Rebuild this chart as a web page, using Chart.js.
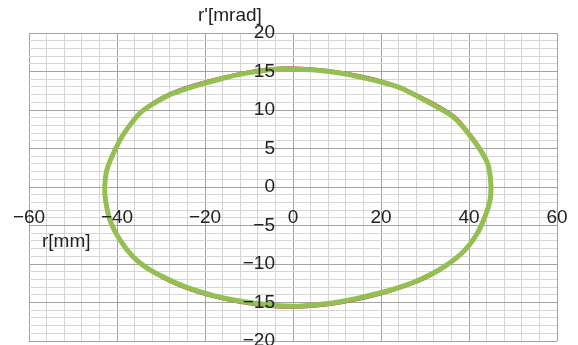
<!DOCTYPE html>
<html lang="ja">
<head>
  <meta charset="UTF-8">
  <title>r - r' ellipse</title>
  <script src="https://cdn.jsdelivr.net/npm/chart.js"></script>
  <style>
    html, body { margin: 0; padding: 0; background: white; }
    .wrap { width: 578px; height: 345px; }
  </style>
</head>
<body>
  <div class="wrap"><canvas id="phaseChart" width="578" height="345"></canvas></div>

  <script>
    // axis setup
    const xMin = -60, xMax = 60, xStep = 4, xLabelEvery = 20;
    const yMin = -20, yMax = 20, yStep = 1, yLabelEvery = 5;
    const xTitle = 'r[mm]';
    const yTitle = "r'[mrad]";

    // thick green curve
    const greenX = [45.0, 44.8, 44.2, 42.1, 39.5, 36.4, 32.7, 28.9, 24.3, 20.2, 15.0, 10.7, 5.0, 0, -4.1, -8.0, -12.4, -16.0, -20.0, -24.0, -28.3, -31.8, -34.4, -36.3, -38.9, -41.2, -42.4, -42.8, -42.6, -41.6, -39.3, -36.3, -33.5, -29.8, -26.0, -22.3, -18.0, -13.2, -8.5, -4.1, 0, 3.1, 7.0, 10.7, 15.0, 20.2, 24.3, 28.9, 34.2, 38.7, 41.7, 43.6, 44.8, 45.0];
    const greenY = [0, 1.5, 3.1, 5.2, 7.2, 9.1, 10.4, 11.6, 12.9, 13.6, 14.3, 14.8, 15.2, 15.3, 15.3, 15.0, 14.6, 14.1, 13.5, 12.8, 11.9, 10.8, 9.8, 8.6, 6.5, 3.9, 2.0, 0, -1.7, -4.3, -6.9, -9.1, -10.4, -11.6, -12.6, -13.4, -14.1, -14.7, -15.1, -15.4, -15.5, -15.4, -15.2, -14.9, -14.4, -13.7, -13.0, -12.0, -10.4, -8.4, -6.2, -3.9, -1.7, 0];

    // thin red curve
    const redX = [45.3, 44.5, 42.4, 39.8, 36.6, 28.9, 20.2, 10.0, 0, -8, -20, -28.3, -34.4, -38.9, -41.4, -42.9, -42.5, -41.4, -39.0, -35.9, -29.8, -22.3, -13.2, -4, 3, 10.7, 20.2, 28.9, 34.2, 38.9, 41.9, 43.9, 45.3];
    const redY = [0, 3.2, 5.4, 7.4, 9.4, 11.9, 13.9, 15.1, 15.6, 15.3, 13.8, 12.2, 10.0, 6.7, 4.0, 0.5, -2.2, -4.6, -7.2, -9.4, -11.9, -13.7, -15.0, -15.7, -15.7, -15.2, -14.0, -12.3, -10.7, -8.6, -6.4, -4.0, 0];

    // thin blue dashed curve
    const blueX = [45.1, 44.3, 42.2, 39.6, 36.5, 28.9, 20.2, 10.0, 0, -8, -20, -28.3, -34.4, -38.8, -41.1, -42.7, -42.5, -41.5, -39.2, -36.2, -29.8, -22.3, -13.2, -4, 3, 10.7, 20.2, 28.9, 34.2, 38.8, 41.8, 43.7, 45.1];
    const blueY = [0, 3.1, 5.3, 7.3, 9.2, 11.7, 13.7, 14.9, 15.4, 15.1, 13.6, 12.0, 9.9, 6.6, 3.9, 0.4, -2.0, -4.4, -7.0, -9.2, -11.7, -13.6, -14.9, -15.6, -15.6, -15.1, -13.9, -12.1, -10.5, -8.5, -6.3, -3.9, 0];

    const toPoints = (xs, ys) => xs.map((x, i) => ({ x: x, y: ys[i] }));
    const minus = v => (v < 0 ? '\u2212' + Math.abs(v) : String(v));

    const gridMinor = '#d6d6d6';
    const gridMajor = '#a3a3a3';
    const tickFont = { family: "'Liberation Sans', Arial, sans-serif", size: 19 };

    // the center axes should not eat into the plot area
    const noSpace = s => {
      s.paddingLeft = 0; s.paddingRight = 0;
      s.paddingTop = 0; s.paddingBottom = 0;
      if (s.isHorizontal()) s.height = 0; else s.width = 0;
    };

    // axis titles drawn as plain text
    const axisTitles = {
      id: 'axisTitles',
      afterDraw(chart) {
        const ctx = chart.ctx;
        ctx.save();
        ctx.fillStyle = '#222';
        ctx.font = "19px 'Liberation Sans', Arial, sans-serif";
        ctx.textBaseline = 'middle';
        ctx.textAlign = 'left';
        ctx.fillText(yTitle, 198, 16);
        ctx.fillText(xTitle, 42, 242);
        ctx.restore();
      }
    };

    new Chart(document.getElementById('phaseChart'), {
      type: 'scatter',
      data: {
        datasets: [
          {
            label: 'green',
            data: toPoints(greenX, greenY),
            showLine: true,
            borderColor: '#94BF52',
            borderWidth: 5,
            pointRadius: 0,
            tension: 0.3,
            order: 1
          },
          {
            label: 'blue',
            data: toPoints(blueX, blueY),
            showLine: true,
            borderColor: '#4F7BC8',
            borderWidth: 1,
            borderDash: [4, 3],
            pointRadius: 0,
            tension: 0.3,
            order: 2
          },
          {
            label: 'red',
            data: toPoints(redX, redY),
            showLine: true,
            borderColor: '#D0383A',
            borderWidth: 1,
            pointRadius: 0,
            tension: 0.3,
            order: 3
          }
        ]
      },
      options: {
        responsive: false,
        animation: false,
        layout: { padding: { left: 29, right: 21, top: 33, bottom: 4 } },
        plugins: {
          legend: { display: false },
          tooltip: { enabled: false }
        },
        scales: {
          x: {
            type: 'linear',
            min: xMin,
            max: xMax,
            // labels sit a little below the r'=0 line
            position: { y: -0.8 },
            afterFit: noSpace,
            border: { display: false },
            grid: {
              drawTicks: false,
              color: c => (c.tick && c.tick.value % xLabelEvery === 0 ? gridMajor : gridMinor)
            },
            ticks: {
              stepSize: xStep,
              autoSkip: false,
              maxRotation: 0,
              padding: 13,
              z: 1,
              color: '#222',
              font: tickFont,
              callback: v => (v % xLabelEvery === 0 ? minus(v) : '')
            }
          },
          y: {
            type: 'linear',
            min: yMin,
            max: yMax,
            // labels end a little left of the r=0 line
            position: { x: -4.1 },
            afterFit: noSpace,
            border: { display: false },
            grid: {
              drawTicks: false,
              color: c => (c.tick && c.tick.value % yLabelEvery === 0 ? gridMajor : gridMinor)
            },
            ticks: {
              stepSize: yStep,
              autoSkip: false,
              padding: 0,
              z: 1,
              color: '#222',
              font: tickFont,
              callback: v => (v % yLabelEvery === 0 ? minus(v) : '')
            }
          }
        }
      },
      plugins: [axisTitles]
    });
  </script>
</body>
</html>
